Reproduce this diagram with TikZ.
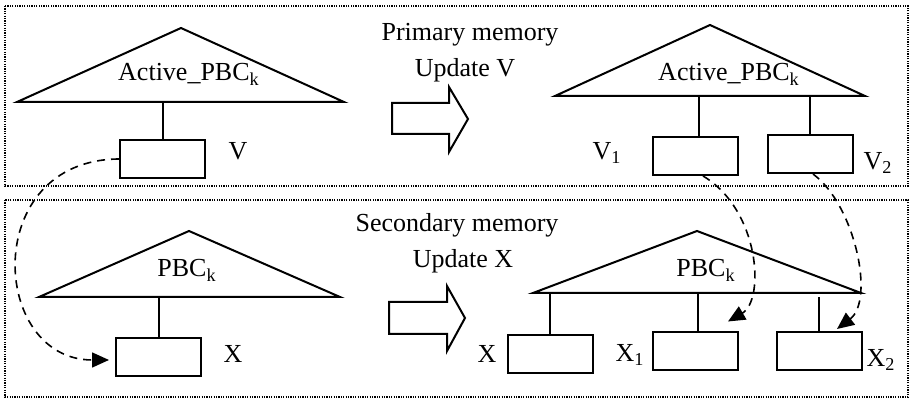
\documentclass[tikz,border=0pt]{standalone}
\usepackage{fontspec}
\setmainfont{Liberation Serif}
\usetikzlibrary{arrows.meta,calc}
\begin{document}
\begin{tikzpicture}[x=0.5pt,y=-0.5pt,
  frame/.style={line width=0.8pt,dash pattern=on 0.6pt off 0.6pt},
  tri/.style={line width=1pt,line join=miter},
  leaf/.style={draw,line width=1pt,minimum width=42.5pt,minimum height=19pt,inner sep=0pt},
  txt/.style={inner sep=0pt,anchor=base,font=\fontsize{13}{15.6}\selectfont},
  link/.style={line width=1pt},
  blockarrow/.style={line width=1pt,line join=miter},
  move/.style={line width=0.8pt,dash pattern=on 4pt off 3pt,-{Triangle[length=8.5pt,width=7.5pt]}}]
\useasboundingbox (0,0) rectangle (911,399);
% frames
\draw[frame] (5,6) rectangle (908,186);
\draw[frame] (5,200) rectangle (908,397);
% triangles
\coordinate (tlA) at (181,28); \coordinate (tlL) at (17,102); \coordinate (tlR) at (344,102);
\coordinate (trA) at (710,25); \coordinate (trL) at (555,96); \coordinate (trR) at (865,96);
\coordinate (blA) at (189,231); \coordinate (blL) at (39,297); \coordinate (blR) at (340,297);
\coordinate (brA) at (697,231); \coordinate (brL) at (533,293); \coordinate (brR) at (861,293);
\draw[tri] (tlL) -- (tlA) -- (tlR) -- cycle;
\draw[tri] (trL) -- (trA) -- (trR) -- cycle;
\draw[tri] (blL) -- (blA) -- (blR) -- cycle;
\draw[tri] (brL) -- (brA) -- (brR) -- cycle;
\node[txt] (tlT) at (189,81) {Active\_PBC\textsubscript{k}};
\node[txt] (trT) at (729,81) {Active\_PBC\textsubscript{k}};
\node[txt] (blT) at (187,277) {PBC\textsubscript{k}};
\node[txt] (brT) at (706,277) {PBC\textsubscript{k}};
% leaves
\node[leaf] (V) at (162.5,159) {};
\node[leaf] (X) at (158.5,357) {};
\node[leaf] (V1) at (695,156) {};
\node[leaf] (V2) at (810,154) {};
\node[leaf] (Xr) at (550,354) {};
\node[leaf] (X1) at (695.5,351.5) {};
\node[leaf] (X2) at (819,351) {};
% links
\draw[link] (V.north) -- (V.north |- tlL);
\draw[link] (X.north) -- (X.north |- blL);
\draw[link] ([xshift=2pt]V1.north) -- ([xshift=2pt]V1.north |- trL);
\draw[link] (V2.north) -- (V2.north |- trL);
\draw[link] (Xr.north) -- (Xr.north |- brL);
\draw[link] ([xshift=1.2pt]X1.north) -- ([xshift=1.2pt]X1.north |- brL);
\draw[link] (X2.north) -- ($(X2.north |- brL)+(0,4)$);
% labels
\node[txt] (lV) at (238,160) {V};
\node[txt] (lX) at (233,363) {X};
\node[txt] (lV1) at (607,160) {V\textsubscript{1}};
\node[txt] (lV2) at (878,170) {V\textsubscript{2}};
\node[txt] (lXr) at (487,363) {X};
\node[txt] (lX1) at (630,362) {X\textsubscript{1}};
\node[txt] (lX2) at (881,367) {X\textsubscript{2}};
% middle texts
\node[txt] (pm) at (470,41) {Primary memory};
\node[txt] (uv) at (465,77) {Update V};
\node[txt] (sm) at (457,232) {Secondary memory};
\node[txt] (ux) at (463,268) {Update X};
% block arrows
\draw[blockarrow] (392,103) -- (449,103) -- (449,87) -- (468,119) -- (449,152) -- (449,134) -- (392,134) -- cycle;
\draw[blockarrow] (389,302) -- (447,302) -- (447,286) -- (465,318) -- (447,351) -- (447,334) -- (389,334) -- cycle;
% dashed moves
\draw[move] (V.west) .. controls (-20,160) and (-10,360) .. ($(X.west)+(-6,3)$);
\draw[move] ($(V1.south)+(8,0)$) .. controls (760,210) and (765,300) .. ($(X1.north east)+(-11,-10)$);
\draw[move] ($(V2.south)+(3,0)$) .. controls (855,205) and (875,300) .. ($(X2.north)+(18,-2)$);
\end{tikzpicture}
\end{document}
